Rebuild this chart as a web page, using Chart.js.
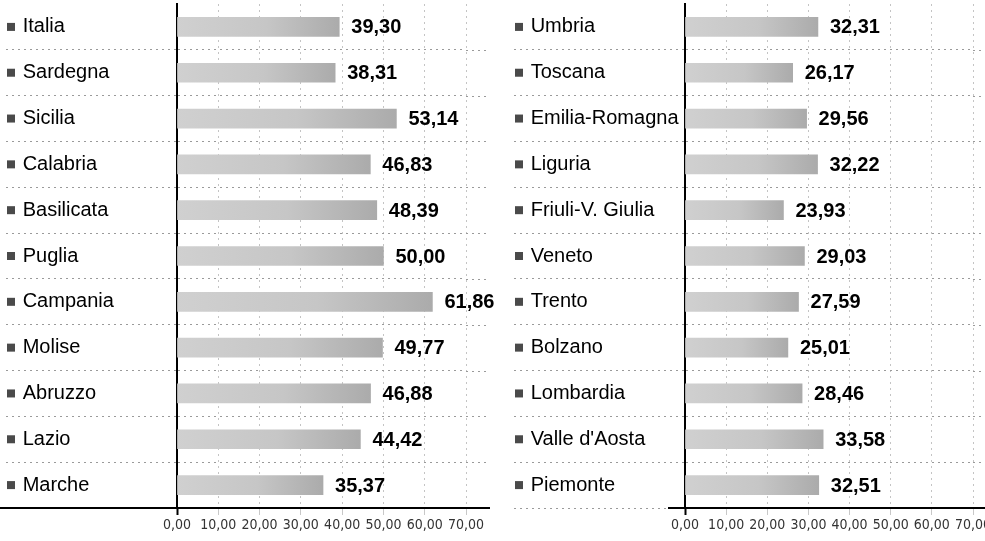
<!DOCTYPE html>
<html>
<head>
<meta charset="utf-8">
<script src="https://cdn.jsdelivr.net/npm/chart.js@4/dist/chart.umd.min.js"></script>
<style>
html, body { margin:0; padding:0; background:#fff; overflow:hidden; }
#wrap { position:relative; width:985px; height:541px; overflow:hidden; }
#chartLeft { position:absolute; left:0; top:0; }
#chartRight { position:absolute; left:490px; top:0; }
</style>
</head>
<body>
<div id="wrap">
<canvas id="chartLeft" width="500" height="541"></canvas>
<canvas id="chartRight" width="505" height="541"></canvas>
</div>
<script>

/* DATA */

const leftRegions = ["Italia","Sardegna","Sicilia","Calabria","Basilicata","Puglia",
"Campania","Molise","Abruzzo","Lazio","Marche"];

const leftValues = [39.30,38.31,53.14,46.83,48.39,50.00,61.86,49.77,46.88,44.42,35.37];

const rightRegions = ["Umbria","Toscana","Emilia-Romagna","Liguria","Friuli-V. Giulia",
"Veneto","Trento","Bolzano","Lombardia","Valle d'Aosta","Piemonte"];

const rightValues = [32.31,26.17,29.56,32.22,23.93,29.03,27.59,25.01,28.46,33.58,32.51];

const xTicks = [0,10,20,30,40,50,60,70];

const FONT = "'Liberation Sans', Arial, sans-serif";
const NARROW = "'Liberation Sans Narrow', 'DejaVu Sans Condensed', sans-serif";

function fmt(v){
    return v.toFixed(2).replace(".", ",");
}

/* EXTRAS: bullets, value labels, bottom line */

const extras = {
    id: "extras",
    afterDatasetsDraw(chart, args, opts){
        const ctx = chart.ctx;
        const ys = chart.scales.y;
        const area = chart.chartArea;
        const meta = chart.getDatasetMeta(0);
        const values = chart.data.datasets[0].data;

        ctx.save();

        // row separators continue past the plot
        ctx.strokeStyle = "#9a9a9a";
        ctx.lineWidth = 1;
        ctx.setLineDash([2, 4]);
        const band = (area.bottom - area.top) / ys.ticks.length;
        for(let i = 1; i < ys.ticks.length; i++){
            const y = Math.round(area.top + band * i) + 0.5;
            ctx.beginPath();
            ctx.moveTo(area.right, y);
            ctx.lineTo(opts.lineTo, y);
            ctx.stroke();
        }
        ctx.setLineDash([]);

        // bottom line
        ctx.strokeStyle = "#000";
        ctx.lineWidth = 2;
        ctx.beginPath();
        ctx.moveTo(opts.lineFrom, area.bottom);
        ctx.lineTo(opts.lineTo, area.bottom);
        ctx.stroke();

        // bullets
        ctx.fillStyle = "#4a4a4a";
        ys.ticks.forEach((t, i) => {
            const y = ys.getPixelForTick(i);
            ctx.fillRect(ys.left + 1, y - 4, 8, 8);
        });

        // value labels
        ctx.fillStyle = "#000";
        ctx.font = "bold 20px " + FONT;
        ctx.textBaseline = "middle";
        ctx.textAlign = "left";
        meta.data.forEach((bar, i) => {
            ctx.fillText(fmt(values[i]), bar.x + 12, bar.y + 1);
        });

        ctx.restore();
    }
};

function makeChart(id, labels, values, axisLeft, axisWidth, padRight, lineFrom, lineTo){

    const hideFirst = (c, col) => c.index === 0 ? "rgba(0,0,0,0)" : col;

    return new Chart(document.getElementById(id), {
        type: "bar",
        data: {
            labels: labels,
            datasets: [{
                data: values,
                barThickness: 19,
                borderWidth: 0,
                backgroundColor: c => {
                    const ch = c.chart;
                    if(!ch.chartArea || c.raw === undefined) return "#c4c4c4";
                    const xs = ch.scales.x;
                    const x0 = xs.getPixelForValue(0);
                    const x1 = xs.getPixelForValue(c.raw);
                    const g = ch.ctx.createLinearGradient(x0, 0, x1, 0);
                    g.addColorStop(0, "#d0d0d0");
                    g.addColorStop(0.55, "#c6c6c6");
                    g.addColorStop(1, "#ababab");
                    return g;
                }
            }]
        },
        plugins: [extras],
        options: {
            indexAxis: "y",
            responsive: false,
            animation: false,
            layout: {
                padding: { left: axisLeft, right: padRight, top: 4, bottom: 0 }
            },
            plugins: {
                legend: { display: false },
                tooltip: { enabled: false },
                extras: { lineFrom: lineFrom, lineTo: lineTo }
            },
            scales: {
                x: {
                    min: 0,
                    max: 70,
                    afterBuildTicks: s => {
                        s.ticks = xTicks.map(v => ({ value: v }));
                    },
                    ticks: {
                        callback: v => fmt(v),
                        font: { family: NARROW, size: 14 },
                        color: "#333",
                        maxRotation: 0,
                        autoSkip: false,
                        padding: 2
                    },
                    grid: {
                        color: c => hideFirst(c, "#c4c4c4"),
                        lineWidth: 1,
                        tickLength: 7,
                        tickColor: c => c.index === 0 ? "#000" : "#c8c8c8",
                        tickWidth: c => c.index === 0 ? 2 : 1
                    },
                    border: { display: true, color: "#000", width: 2, dash: [2, 4] },
                    afterFit: s => {
                        s.height = 33;
                        s.paddingLeft = 0;
                        s.paddingRight = 0;
                    }
                },
                y: {
                    ticks: {
                        crossAlign: "far",
                        callback: (v, i) => "   " + labels[i],
                        font: { family: FONT, size: 20 },
                        color: "#000",
                        padding: 0
                    },
                    grid: {
                        offset: true,
                        color: c => hideFirst(c, "#9a9a9a"),
                        lineWidth: 1,
                        tickLength: axisWidth,
                        tickColor: c => hideFirst(c, "#9a9a9a"),
                        tickBorderDash: [2, 4]
                    },
                    border: { display: true, color: "#000", width: 2, dash: [2, 4] },
                    afterFit: s => {
                        s.width = axisWidth;
                        s.paddingTop = 0;
                        s.paddingBottom = 0;
                    }
                }
            }
        }
    });
}

/* START */

makeChart("chartLeft", leftRegions, leftValues, 6, 171, 34, 0, 490);
makeChart("chartRight", rightRegions, rightValues, 24, 171, 22, 178, 505);

</script>
</body>
</html>
